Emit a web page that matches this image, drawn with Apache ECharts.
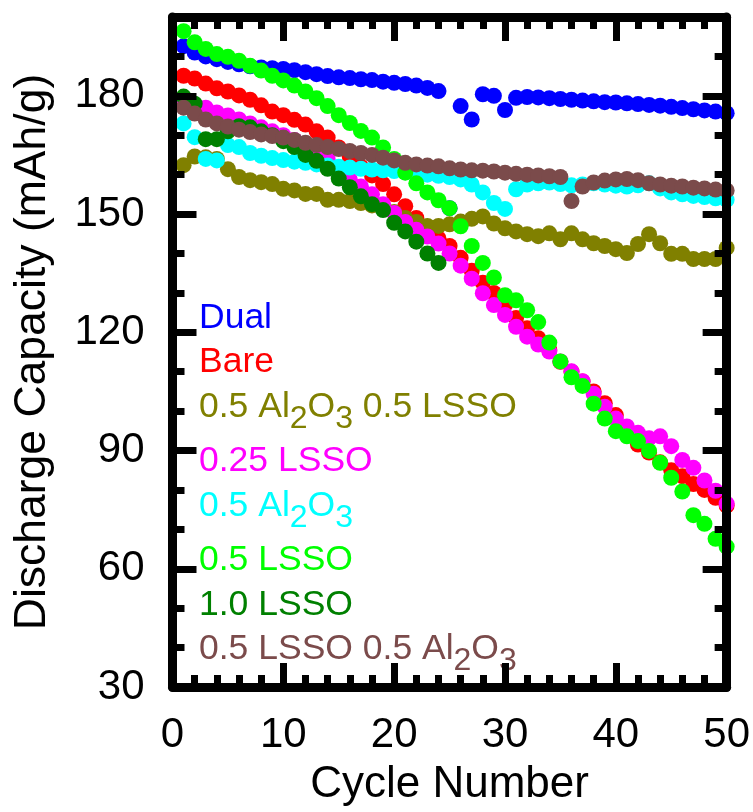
<!DOCTYPE html>
<html><head><meta charset="utf-8">
<script src="https://cdn.jsdelivr.net/npm/echarts@6/dist/echarts.min.js"></script>
<style>html,body{margin:0;padding:0;background:#fff}#c{width:753px;height:812px}</style>
</head><body><div id="c"></div>
<script>
const cycles = [1,2,3,4,5,6,7,8,9,10,11,12,13,14,15,16,17,18,19,20,21,22,23,24,25,26,27,28,29,30,31,32,33,34,35,36,37,38,39,40,41,42,43,44,45,46,47,48,49,50];

const dual = [192.6,191,190,189.3,188.6,188,187.5,187.2,187,186.8,
  186.5,186,185.5,185,184.7,184.5,184.2,184,183.6,183.3,
  183,182.6,182,181.2,151.5,177.4,174,180.4,180,176.4,
  179.5,179.7,179.6,179.4,179.2,179,178.8,178.6,178.4,178.3,
  178.1,177.9,177.7,177.5,177.2,176.9,176.6,176.3,176,175.6];
const bare = [185.1,184.4,183.1,181.9,181.1,180.1,179,177.6,176,175.1,
  173.9,172.7,171,169.4,166.9,164.5,162,159.8,157.6,155,
  152,149,146,143.8,141.9,138.9,135.6,132.6,130,126.9,
  123.6,121,118.5,115.5,112.5,110,107.5,105,102,99,
  95,91.5,89.5,87,85,83.5,81.5,80,78,76];
const alLsso = [162.4,164.6,164.4,164,161.4,159.4,158.6,158.1,157.6,156.4,
  156,155.1,155.1,153.6,153.6,153.3,152.8,152.2,151.5,150.5,
  149,148,147,147,147.4,148.1,148.8,149.4,147.6,146.4,
  145.6,144.9,144.4,145.1,143.6,145.1,143.6,142.6,141.9,141.1,
  140.1,142.4,144.9,142.6,139.9,139.9,138.6,138.6,138.6,141.4];
const lsso025 = [178,177.5,177,175.8,175,174,173,172,171,170,
  168.8,167.5,166,164,161.5,158.8,157,155,152.5,150.3,
  148,146,144.3,142.5,140,136.9,133.6,129.9,126.9,124.4,
  121.4,118.9,116.9,115.1,112.6,110.1,107.6,104.4,101.1,98.1,
  96.1,94.5,93.1,93.6,91.1,87.6,85.6,82.4,79.8,76.5];
const al05 = [173,169.5,164,163.6,167.5,167,165.5,164.8,164.2,163.7,
  163.3,163,162.6,162.3,162,161.8,161.5,161.3,161.1,160.9,
  160.6,160.3,160,159.7,159.4,158.8,157.5,155.5,152.8,151.3,
  156.3,157.5,157.8,158,157.6,157.3,157.5,157.8,157.5,157.2,
  157,157.3,157.8,156.5,155.5,155,154.6,154.3,154,153.6];
const lsso05 = [196.4,193.6,191.9,190.6,189.9,188.9,187.6,186.4,185.1,183.9,
  182.6,181.1,179.4,177.4,175.1,173.1,171.1,169.4,166.9,164,
  160.5,157.8,155.5,153.5,151.5,146.9,141.9,137.6,133.9,129.4,
  128.1,125.6,122.6,117.4,112.6,108.6,106.4,101.9,98.1,94.9,
  93.6,92.4,89.9,86.9,83.1,79.6,73.6,71.4,67.6,65.6];
const lsso10 = [179.8,178,169,169,171,172.3,172,171,170,168.5,
  167,165,163.5,161.5,159,156.8,154.5,152.5,151,147.8,
  145.6,143,140,137.6];
const lssoAl = [177,175.5,174,173,172.2,171.4,170.8,170.2,169.8,169.4,
  168.8,168.1,167.5,167,166.5,166,165.5,165,164.3,163.6,
  163,162.6,162.3,162.1,161.6,161.3,161.1,161,160.8,160.5,
  160.2,160,159.8,159.6,159.4,153.3,157,158,158.5,158.8,
  158.9,158.6,157.8,157.5,157.2,157,156.7,156.5,156.2,156];

const seriesNames = ['Dual','Bare','0.5 Al2O3 0.5 LSSO','0.25 LSSO','0.5 Al2O3','0.5 LSSO','1.0 LSSO','0.5 LSSO 0.5 Al2O3'];
const seriesColors = ['#0000ff','#ff0000','#808000','#ff00ff','#00ffff','#00ff00','#008000','#7b4b4b'];
const seriesValues = [dual, bare, alLsso, lsso025, al05, lsso05, lsso10, lssoAl];

const xTicks = [0,10,20,30,40,50];
const yTicks = [30,60,90,120,150,180];

const FONT = 'Liberation Sans, Arial, sans-serif';
const rich = {};
seriesColors.forEach((c, i) => {
  rich['n' + i] = {color: c, fontSize: 35.5, lineHeight: 35.5, verticalAlign: 'top', fontFamily: FONT};
  rich['s' + i] = {color: c, fontSize: 32, lineHeight: 31, padding: [14, 0, 0, 0], verticalAlign: 'top', fontFamily: FONT};
});
function legendFmt(name) {
  const i = seriesNames.indexOf(name);
  const sub = '{n' + i + '|Al}{s' + i + '|2}{n' + i + '|O}{s' + i + '|3}';
  return name.split('Al2O3').map(p => p ? '{n' + i + '|' + p + '}' : '').join(sub);
}

const black = '#000';
const lineW = 9, tickW = 7, majorLen = 24, minorLen = 12;

function xAx(pos, withLabels) {
  return {
    type: 'value', position: pos, min: 0, max: 50, interval: 10, z: 10,
    axisLine: {show: true, lineStyle: {color: black, width: lineW}},
    axisTick: {show: true, inside: true, length: majorLen, lineStyle: {color: black, width: tickW}},
    minorTick: {show: true, splitNumber: 5, length: minorLen, lineStyle: {color: black, width: tickW}},
    splitLine: {show: false}, minorSplitLine: {show: false},
    axisLabel: withLabels ? {show: true, color: black, fontSize: 42, fontFamily: FONT, margin: 27,
      formatter: v => xTicks.indexOf(v) >= 0 ? String(v) : ''} : {show: false},
    name: withLabels ? 'Cycle Number' : '', nameLocation: 'middle', nameGap: 76,
    nameTextStyle: {color: black, fontSize: 44, fontFamily: FONT}
  };
}
function yAx(pos, major, withLabels) {
  return {
    type: 'value', position: pos, min: 30, max: 200, interval: major ? 30 : 10, z: 10,
    axisLine: {show: major, lineStyle: {color: black, width: lineW}},
    axisTick: {show: true, inside: true, length: major ? majorLen : minorLen, lineStyle: {color: black, width: tickW}},
    splitLine: {show: false},
    axisLabel: withLabels ? {show: true, color: black, fontSize: 42, fontFamily: FONT, margin: 28,
      formatter: v => yTicks.indexOf(v) >= 0 ? String(v) : ''} : {show: false},
    name: withLabels ? 'Discharge Capacity (mAh/g)' : '', nameLocation: 'middle', nameGap: 117,
    nameTextStyle: {color: black, fontSize: 44.5, fontFamily: FONT}
  };
}

const chart = echarts.init(document.getElementById('c'), null, {renderer: 'canvas'});
chart.setOption({
  animation: false,
  backgroundColor: '#fff',
  textStyle: {fontFamily: FONT},
  grid: {left: 172.5, right: 24.5, top: 17, bottom: 114.5, containLabel: false},
  xAxis: [xAx('bottom', true), xAx('top', false)],
  yAxis: [yAx('left', true, true), yAx('left', false, false), yAx('right', true, false), yAx('right', false, false)],
  legend: {
    orient: 'vertical', left: 194, top: 300, padding: 0, itemGap: 8.5,
    itemWidth: 0, itemHeight: 10, icon: 'none', selectedMode: false,
    data: seriesNames, formatter: legendFmt, textStyle: {rich: rich, fontFamily: FONT}
  },
  series: seriesValues.map((vals, i) => ({
    name: seriesNames[i], type: 'scatter', xAxisIndex: 0, yAxisIndex: 0,
    symbol: 'circle', symbolSize: 16, clip: true,
    itemStyle: {color: seriesColors[i], opacity: 1},
    emphasis: {disabled: true},
    data: vals.map((v, k) => [cycles[k], v])
  }))
});
</script></body></html>
